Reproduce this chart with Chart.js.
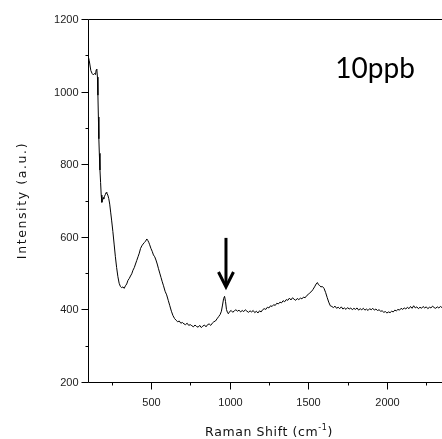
<!DOCTYPE html>
<html>
<head>
<meta charset="utf-8">
<script src="https://cdn.jsdelivr.net/npm/chart.js@4.4.1/dist/chart.umd.min.js"></script>
<style>
  html, body { margin: 0; padding: 0; background: #fff; }
  canvas { display: block; }
</style>
</head>
<body>
<canvas id="c" width="442" height="439"></canvas>
<script>
// ---- data ----
const ramanShift = [
  100,108,118,126,134,142,148,152,156,160,163,166,169,172,176,180,184,188,192,196,
  200,205,210,215,220,226,232,238,244,250,258,266,274,282,290,298,306,314,322,330,
  338,346,354,362,370,378,386,394,402,410,418,426,434,442,450,458,466,474,480,486,
  492,500,508,516,524,532,540,548,556,564,572,580,590,600,610,620,630,640,650,660,
  670,680,690,700,710,720,730,740,750,760,770,780,790,800,810,820,830,840,850,860,
  870,880,890,900,910,920,930,940,948,955,962,968,974,980,986,992,
  1000,1010,1020,1030,1040,1050,1060,1070,1080,1090,1100,1110,1120,1130,1140,1150,1160,1170,1180,1190,
  1200,1210,1220,1230,1240,1250,1260,1270,1280,1290,1300,1310,1320,1330,1340,1350,1360,1370,1380,1390,
  1400,1410,1420,1430,1440,1450,1460,1470,1480,1490,1500,1510,1520,1530,1540,1550,1558,1565,1572,1580,
  1590,1600,1610,1620,1630,1640,1650,1660,1670,1680,1690,1700,1710,1720,1730,1740,1750,1760,1770,1780,
  1790,1800,1810,1820,1830,1840,1850,1860,1870,1880,1890,1900,1910,1920,1930,1940,1950,1960,1970,1980,
  1990,2000,2010,2020,2030,2040,2050,2060,2070,2080,2090,2100,2110,2120,2130,2140,2150,2160,2170,2180,
  2190,2200,2210,2220,2230,2240,2250,2260,2270,2280,2290,2300,2310,2320,2330,2340,2350
];
const intensity = [
  1100,1085,1058,1050,1046,1050,1047,1060,1062,1040,990,930,870,830,784,750,715,695,700,708,
  704,712,716,722,720,715,705,690,668,646,615,580,545,515,490,472,463,460,462,458,
  465,470,480,485,492,498,508,515,525,535,545,555,568,575,580,584,588,594,590,585,
  578,568,560,550,545,536,525,512,500,488,476,465,450,440,425,410,395,383,375,370,
  366,368,362,364,360,358,362,356,358,355,352,357,353,351,356,350,354,357,352,358,
  360,356,362,366,368,374,380,386,395,412,430,436,422,400,392,388,
  394,397,392,396,399,395,398,393,397,394,399,395,392,396,393,397,391,395,390,396,
  393,399,402,400,406,404,410,408,413,411,417,415,420,418,424,421,427,425,431,426,
  432,428,425,430,427,431,429,434,432,438,441,446,449,455,462,470,474,468,466,462,
  463,458,447,433,420,410,408,405,409,403,406,402,407,401,404,400,405,401,404,399,
  403,400,404,398,402,399,403,398,401,397,402,399,403,398,401,397,399,395,396,392,
  394,390,393,391,395,393,398,396,400,398,403,400,404,401,406,402,408,403,410,404,
  407,402,406,403,408,404,407,402,406,404,409,405,403,407,404,408,405
];
const xTickValues = [250,500,750,1000,1250,1500,1750,2000,2250];
const xTickLabels = ['', '500', '', '1000', '', '1500', '', '2000', ''];
const yTickValues = [200,300,400,500,600,700,800,900,1000,1100,1200];
const yTickLabels = ['200', '', '400', '', '600', '', '800', '', '1000', '', '1200'];
const xAxisRange = [100, 2350];
const yAxisRange = [200, 1200];
const sampleLabel = '10ppb';
const sampleLabelAt = [1925, 1037];       // data coords (x, y baseline)
const arrowAt = [977, 597, 459];          // x, y start, y tip (data coords)
const xTitle = ['Raman Shift (cm', '-1', ')'];
const yTitle = 'Intensity (a.u.)';

const points = ramanShift.map((x, i) => ({ x: x, y: intensity[i] }));
const tickFont = '11px "Liberation Sans", Arial, sans-serif';
const titleFont = '12.5px "DejaVu Sans", sans-serif';

const decorations = {
  id: 'decorations',
  afterDraw(chart) {
    const ctx = chart.ctx;
    const a = chart.chartArea;
    const xs = chart.scales.x, ys = chart.scales.y;
    ctx.save();
    ctx.strokeStyle = '#000';
    ctx.lineWidth = 1;
    const L = Math.round(a.left) + 0.5;
    const T = Math.round(a.top) + 0.5;
    const B = Math.round(a.bottom) + 0.5;
    // frame: top, left, bottom
    ctx.beginPath();
    ctx.moveTo(a.right, T); ctx.lineTo(L, T); ctx.lineTo(L, B); ctx.lineTo(a.right, B);
    ctx.stroke();
    // x ticks + labels
    ctx.fillStyle = '#222';
    ctx.font = tickFont;
    ctx.textAlign = 'center';
    ctx.textBaseline = 'middle';
    xTickValues.forEach((v, i) => {
      const px = Math.round(xs.getPixelForValue(v)) + 0.5;
      const len = xTickLabels[i] ? 7 : 3;
      ctx.beginPath(); ctx.moveTo(px, B); ctx.lineTo(px, B + len); ctx.stroke();
      if (xTickLabels[i]) ctx.fillText(xTickLabels[i], px, 403);
    });
    // y ticks + labels
    ctx.textAlign = 'right';
    yTickValues.forEach((v, i) => {
      const py = Math.round(ys.getPixelForValue(v)) + 0.5;
      const len = yTickLabels[i] ? 7 : 3;
      ctx.beginPath(); ctx.moveTo(L, py); ctx.lineTo(L - len, py); ctx.stroke();
      if (yTickLabels[i]) ctx.fillText(yTickLabels[i], L - 10, py);
    });
    // arrow
    const ax = xs.getPixelForValue(arrowAt[0]);
    const ay0 = ys.getPixelForValue(arrowAt[1]);
    const ay1 = ys.getPixelForValue(arrowAt[2]);
    ctx.lineWidth = 3;
    ctx.beginPath(); ctx.moveTo(ax, ay0); ctx.lineTo(ax, ay1 - 2); ctx.stroke();
    ctx.lineJoin = 'miter';
    ctx.beginPath();
    ctx.moveTo(ax - 7.5, ay1 - 16); ctx.lineTo(ax, ay1 - 1); ctx.lineTo(ax + 7.5, ay1 - 16);
    ctx.stroke();
    // sample label
    ctx.fillStyle = '#000';
    ctx.font = '28px Lato, "Liberation Sans", sans-serif';
    ctx.textAlign = 'center';
    ctx.textBaseline = 'alphabetic';
    ctx.fillText(sampleLabel, xs.getPixelForValue(sampleLabelAt[0]), ys.getPixelForValue(sampleLabelAt[1]));
    // y title
    ctx.fillStyle = '#111';
    ctx.font = titleFont;
    ctx.letterSpacing = '1.6px';
    ctx.save();
    ctx.translate(26, (a.top + a.bottom) / 2);
    ctx.rotate(-Math.PI / 2);
    ctx.textAlign = 'center';
    ctx.fillText(yTitle, 0, 0);
    ctx.restore();
    // x title with superscript
    ctx.letterSpacing = '0.6px';
    ctx.textAlign = 'left';
    ctx.font = titleFont;
    const w1 = ctx.measureText(xTitle[0]).width;
    const w3 = ctx.measureText(xTitle[2]).width;
    ctx.font = '8px "DejaVu Sans", sans-serif';
    const w2 = ctx.measureText(xTitle[1]).width;
    const x0 = (a.left + a.right) / 2 + 4 - (w1 + w2 + w3) / 2;
    const base = 436;
    ctx.font = titleFont;
    ctx.fillText(xTitle[0], x0, base);
    ctx.font = '8px "DejaVu Sans", sans-serif';
    ctx.fillText(xTitle[1], x0 + w1, base - 6);
    ctx.font = titleFont;
    ctx.fillText(xTitle[2], x0 + w1 + w2, base);
    ctx.restore();
  }
};

new Chart(document.getElementById('c'), {
  type: 'line',
  data: {
    datasets: [{
      data: points,
      borderColor: '#000',
      borderWidth: 1,
      pointRadius: 0,
      tension: 0,
      fill: false
    }]
  },
  options: {
    responsive: false,
    animation: false,
    devicePixelRatio: 1,
    layout: { padding: { top: 19, right: 0, left: 0, bottom: 0 } },
    plugins: { legend: { display: false }, tooltip: { enabled: false } },
    scales: {
      x: {
        type: 'linear',
        min: xAxisRange[0], max: xAxisRange[1],
        afterFit: s => { s.height = 57; },
        grid: { display: false, drawTicks: false },
        border: { display: false },
        ticks: { display: false }
      },
      y: {
        type: 'linear',
        min: yAxisRange[0], max: yAxisRange[1],
        afterFit: s => { s.width = 88; },
        grid: { display: false, drawTicks: false },
        border: { display: false },
        ticks: { display: false }
      }
    }
  },
  plugins: [decorations]
});
</script>
</body>
</html>
